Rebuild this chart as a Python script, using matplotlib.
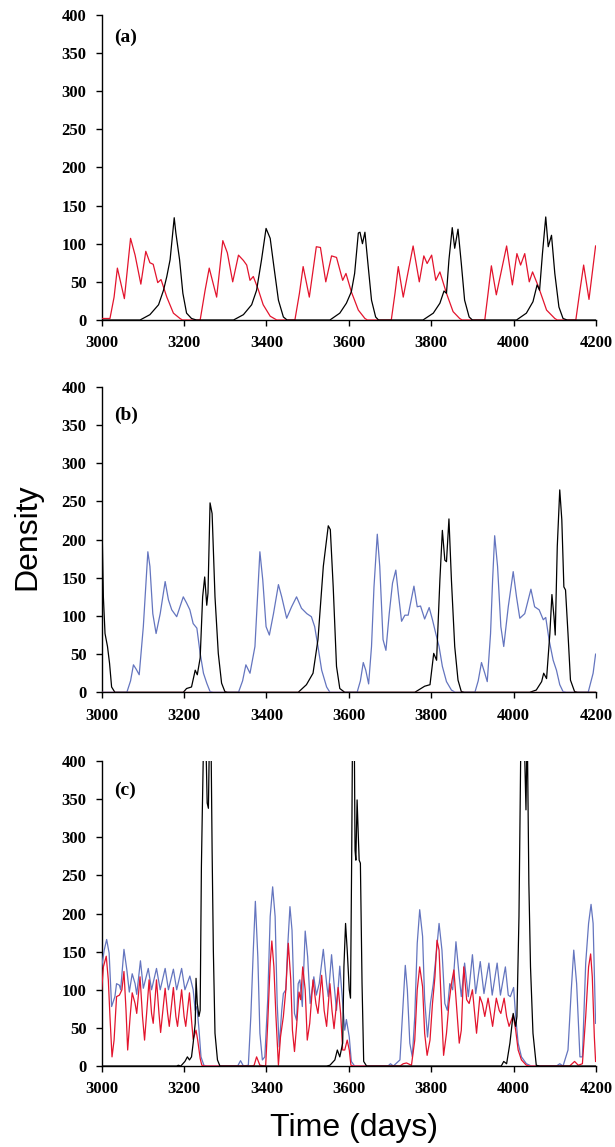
import matplotlib
matplotlib.use("Agg")
import matplotlib.pyplot as plt

# (time, density) points
a_red = [(3000, 2), (3020, 2), (3030, 30), (3038, 68), (3055, 28), (3070, 107), (3081, 85), (3095, 47),
         (3107, 90), (3117, 75), (3125, 73), (3136, 49), (3144, 53), (3158, 30), (3174, 9), (3190, 2),
         (3196, 0), (3239, 0), (3251, 39), (3261, 68), (3279, 30), (3294, 104), (3305, 88), (3318, 50),
         (3332, 85), (3344, 78), (3352, 72), (3360, 52), (3368, 57), (3380, 40), (3392, 20), (3409, 5),
         (3425, 0), (3469, 0), (3480, 35), (3489, 70), (3504, 30), (3521, 96), (3531, 95), (3544, 50),
         (3558, 84), (3570, 82), (3585, 52), (3593, 61), (3606, 37), (3623, 13), (3639, 2), (3645, 0),
         (3703, 0), (3712, 35), (3720, 70), (3732, 30), (3756, 97), (3771, 50), (3782, 84), (3790, 74),
         (3801, 85), (3811, 52), (3821, 63), (3837, 35), (3853, 11), (3869, 2), (3875, 0), (3930, 0),
         (3938, 35), (3946, 71), (3958, 33), (3983, 97), (3997, 46), (4008, 87), (4017, 72), (4027, 87),
         (4038, 50), (4046, 63), (4060, 44), (4080, 13), (4100, 2), (4106, 0), (4151, 0), (4160, 35),
         (4170, 72), (4183, 27), (4199, 97)]

a_black = [(3000, 0), (3093, 0), (3117, 7), (3138, 20), (3150, 39), (3158, 57), (3166, 79), (3176, 134),
           (3180, 114), (3189, 79), (3197, 35), (3206, 9), (3218, 2), (3230, 0), (3320, 0), (3344, 7),
           (3364, 20), (3376, 39), (3388, 79), (3399, 120), (3409, 107), (3418, 70), (3429, 26), (3441, 4),
           (3450, 0), (3554, 0), (3578, 9), (3594, 22), (3606, 37), (3614, 61), (3623, 114), (3627, 115),
           (3633, 100), (3639, 115), (3647, 70), (3655, 26), (3665, 4), (3672, 0), (3780, 0), (3805, 9),
           (3821, 22), (3831, 38), (3837, 35), (3843, 79), (3851, 121), (3857, 94), (3865, 119), (3873, 74),
           (3881, 26), (3892, 4), (3900, 0), (4007, 0), (4031, 9), (4047, 24), (4057, 46), (4063, 39),
           (4070, 87), (4078, 135), (4084, 96), (4092, 111), (4100, 61), (4110, 17), (4120, 2), (4130, 0),
           (4200, 0)]

b_red = [(3000, 0), (4200, 0)]

b_black = [(3000, 241), (3004, 125), (3008, 77), (3014, 60), (3019, 38), (3024, 7), (3032, 0), (3198, 0),
           (3206, 5), (3218, 7), (3227, 29), (3232, 23), (3239, 45), (3245, 125), (3250, 151), (3255, 114),
           (3258, 130), (3263, 248), (3268, 234), (3275, 125), (3283, 51), (3291, 12), (3299, 1), (3305, 0),
           (3477, 0), (3497, 10), (3513, 25), (3525, 69), (3538, 165), (3550, 218), (3555, 213), (3562, 138),
           (3570, 34), (3578, 5), (3590, 0), (3760, 0), (3784, 8), (3797, 10), (3806, 51), (3813, 42),
           (3821, 147), (3827, 212), (3833, 173), (3837, 171), (3843, 227), (3849, 147), (3857, 60),
           (3865, 16), (3873, 1), (3880, 0), (4039, 0), (4055, 3), (4068, 14), (4073, 25), (4080, 18),
           (4088, 77), (4093, 128), (4098, 99), (4101, 75), (4106, 191), (4112, 265), (4117, 226),
           (4122, 138), (4126, 134), (4132, 77), (4138, 16), (4148, 1), (4155, 0), (4200, 0)]

b_blue = [(3000, 0), (3061, 0), (3070, 15), (3077, 36), (3084, 30), (3091, 23), (3101, 86), (3112, 184),
          (3117, 165), (3124, 103), (3132, 77), (3142, 103), (3154, 145), (3162, 121), (3170, 108),
          (3182, 99), (3190, 112), (3198, 125), (3206, 117), (3214, 108), (3222, 90), (3231, 84), (3239, 51),
          (3247, 25), (3255, 12), (3263, 1), (3270, 0), (3332, 0), (3342, 15), (3350, 36), (3360, 25),
          (3372, 60), (3384, 184), (3391, 147), (3399, 86), (3407, 75), (3417, 103), (3429, 141),
          (3437, 125), (3449, 97), (3461, 112), (3473, 125), (3485, 110), (3498, 103), (3509, 99),
          (3517, 86), (3525, 60), (3534, 29), (3546, 7), (3554, 0), (3620, 0), (3628, 15), (3635, 39),
          (3641, 29), (3648, 11), (3655, 60), (3661, 138), (3669, 207), (3675, 165), (3683, 69), (3690, 55),
          (3698, 103), (3706, 143), (3714, 160), (3720, 130), (3728, 93), (3736, 101), (3744, 101),
          (3758, 139), (3766, 112), (3774, 113), (3784, 96), (3795, 111), (3803, 95), (3811, 77),
          (3819, 60), (3827, 34), (3837, 14), (3849, 3), (3858, 0), (3906, 0), (3914, 15), (3922, 39),
          (3930, 25), (3936, 14), (3944, 77), (3949, 147), (3954, 205), (3961, 165), (3969, 86), (3976, 60),
          (3987, 112), (3999, 158), (4007, 125), (4015, 97), (4027, 103), (4042, 135), (4051, 112),
          (4062, 108), (4072, 95), (4078, 98), (4086, 69), (4096, 42), (4104, 29), (4112, 10), (4120, 1),
          (4128, 0), (4181, 0), (4193, 25), (4199, 50)]

c_blue = [(3000, 130), (3006, 152), (3012, 166), (3018, 148), (3024, 78), (3032, 91), (3036, 108),
          (3043, 106), (3046, 100), (3054, 153), (3061, 126), (3067, 97), (3074, 121), (3081, 108),
          (3085, 94), (3094, 138), (3101, 102), (3113, 128), (3121, 100), (3133, 128), (3142, 100),
          (3154, 128), (3162, 100), (3174, 127), (3182, 100), (3194, 128), (3202, 100), (3214, 118),
          (3222, 100), (3227, 73), (3231, 78), (3236, 49), (3241, 12), (3248, 1), (3255, 0), (3330, 0),
          (3337, 7), (3344, 0), (3356, 1), (3362, 65), (3368, 152), (3373, 216), (3379, 143), (3384, 43),
          (3390, 8), (3396, 12), (3403, 87), (3409, 196), (3415, 235), (3421, 196), (3426, 82), (3431, 25),
          (3437, 73), (3441, 95), (3447, 100), (3451, 152), (3457, 209), (3462, 178), (3468, 69),
          (3473, 60), (3477, 108), (3481, 113), (3487, 78), (3494, 177), (3500, 143), (3506, 82),
          (3515, 117), (3521, 93), (3528, 108), (3538, 153), (3546, 108), (3550, 91), (3558, 146),
          (3564, 108), (3570, 73), (3578, 131), (3585, 82), (3590, 47), (3594, 61), (3601, 38), (3606, 6),
          (3614, 0), (3695, 0), (3701, 3), (3708, 0), (3724, 8), (3730, 65), (3737, 132), (3742, 100),
          (3748, 30), (3754, 12), (3760, 65), (3766, 161), (3772, 205), (3779, 170), (3784, 87),
          (3791, 38), (3798, 82), (3805, 108), (3813, 152), (3819, 187), (3826, 152), (3833, 82),
          (3839, 73), (3845, 108), (3852, 100), (3860, 163), (3868, 117), (3873, 91), (3881, 135),
          (3890, 91), (3900, 146), (3908, 95), (3919, 137), (3928, 95), (3940, 135), (3948, 93),
          (3960, 135), (3968, 93), (3980, 130), (3987, 93), (3992, 91), (4000, 103), (4005, 65),
          (4011, 30), (4019, 12), (4031, 3), (4043, 0), (4104, 0), (4112, 3), (4120, 0), (4132, 21),
          (4140, 100), (4146, 152), (4153, 108), (4161, 12), (4167, 12), (4175, 135), (4182, 187),
          (4188, 212), (4193, 187), (4199, 56)]

c_red = [(3000, 100), (3004, 130), (3011, 144), (3016, 113), (3020, 65), (3025, 12), (3030, 34), (3036, 91),
         (3043, 93), (3049, 100), (3054, 124), (3059, 73), (3063, 21), (3069, 65), (3074, 96), (3081, 82),
         (3085, 69), (3093, 117), (3099, 65), (3104, 34), (3109, 69), (3115, 113), (3121, 69), (3125, 56),
         (3133, 113), (3139, 69), (3143, 44), (3154, 102), (3160, 69), (3164, 52), (3174, 103), (3180, 65),
         (3184, 52), (3194, 100), (3200, 65), (3204, 52), (3213, 96), (3218, 60), (3222, 35), (3229, 47),
         (3233, 34), (3239, 10), (3243, 1), (3250, 0), (3366, 0), (3370, 1), (3376, 12), (3384, 1),
         (3398, 0), (3403, 56), (3409, 135), (3413, 164), (3418, 130), (3423, 65), (3429, 1), (3434, 38),
         (3441, 65), (3447, 100), (3453, 161), (3459, 113), (3463, 47), (3468, 19), (3473, 52), (3479, 97),
         (3483, 87), (3488, 130), (3494, 100), (3499, 34), (3505, 56), (3513, 113), (3520, 82), (3525, 69),
         (3534, 119), (3540, 73), (3546, 52), (3554, 108), (3559, 73), (3564, 49), (3574, 103), (3580, 69),
         (3585, 21), (3590, 21), (3596, 34), (3601, 21), (3605, 1), (3612, 0), (3724, 0), (3732, 3),
         (3740, 4), (3752, 1), (3760, 34), (3766, 100), (3772, 130), (3779, 104), (3784, 43), (3790, 14),
         (3797, 34), (3803, 82), (3809, 117), (3814, 165), (3819, 152), (3825, 73), (3830, 14), (3837, 43),
         (3843, 82), (3849, 108), (3855, 126), (3861, 82), (3868, 30), (3873, 47), (3879, 130), (3886, 87),
         (3892, 82), (3900, 100), (3906, 65), (3910, 43), (3918, 91), (3924, 82), (3930, 65), (3938, 89),
         (3944, 69), (3949, 52), (3958, 89), (3965, 73), (3969, 69), (3977, 89), (3983, 65), (3989, 52),
         (3999, 67), (4005, 47), (4011, 21), (4019, 8), (4031, 1), (4038, 0), (4136, 0), (4148, 6),
         (4157, 1), (4167, 3), (4175, 65), (4182, 130), (4187, 147), (4191, 117), (4196, 38), (4199, 6)]

c_black = [(3000, 0), (3182, 0), (3186, 1), (3192, 0), (3202, 6), (3208, 12), (3213, 8), (3218, 12),
           (3222, 30), (3227, 56), (3229, 115), (3232, 82), (3236, 65), (3239, 73), (3242, 261), (3244, 327),
           (3248, 450), (3252, 450), (3256, 345), (3259, 338), (3262, 450), (3265, 450), (3268, 283),
           (3271, 152), (3275, 43), (3281, 8), (3287, 0), (3546, 0), (3554, 1), (3566, 8), (3572, 21),
           (3578, 12), (3585, 30), (3588, 130), (3592, 187), (3596, 152), (3601, 100), (3604, 89),
           (3607, 283), (3609, 450), (3613, 450), (3615, 283), (3617, 270), (3620, 349), (3623, 301),
           (3625, 270), (3628, 266), (3632, 108), (3636, 6), (3643, 0), (3970, 0), (3976, 6), (3983, 3),
           (3991, 30), (3999, 69), (4005, 52), (4008, 65), (4013, 196), (4018, 450), (4025, 450),
           (4030, 336), (4033, 450), (4037, 240), (4041, 130), (4047, 43), (4055, 1), (4063, 0), (4200, 0)]

panel_labels = ["(a)", "(b)", "(c)"]
x_ticks = [3000, 3200, 3400, 3600, 3800, 4000, 4200]
y_ticks = [0, 50, 100, 150, 200, 250, 300, 350, 400]

RED = "#e3142d"
BLUE = "#6475bf"
BLACK = "#000000"

panels = [
    [(a_red, RED), (a_black, BLACK)],
    [(b_blue, BLUE), (b_black, BLACK), (b_red, RED)],
    [(c_blue, BLUE), (c_red, RED), (c_black, BLACK)],
]

# axes boxes in figure fractions (left, bottom, width, height)
boxes = [
    (0.1654, 0.7210, 0.8037, 0.2662),
    (0.1654, 0.3964, 0.8037, 0.2664),
    (0.1654, 0.0706, 0.8037, 0.2659),
]
label_y = [0.955, 0.935, 0.932]

tick_font = {"family": ["Liberation Serif", "DejaVu Serif"], "weight": "bold", "size": 12}

fig = plt.figure(figsize=(6.15, 11.47), dpi=100)

for i, series in enumerate(panels):
    ax = fig.add_axes(boxes[i])
    for pts, col in series:
        t = [p[0] for p in pts]
        v = [p[1] for p in pts]
        ax.plot(t, v, color=col, lw=0.9, zorder=3)
    ax.set_xlim(3000, 4200)
    ax.set_ylim(0, 400)
    ax.set_xticks(x_ticks)
    ax.set_yticks(y_ticks)
    ax.set_xticklabels([str(x) for x in x_ticks], fontdict=tick_font)
    ax.set_yticklabels([str(y) for y in y_ticks], fontdict=tick_font)
    ax.tick_params(axis="both", direction="out", length=4, width=1, pad=7, colors="black")
    for s in ["top", "right"]:
        ax.spines[s].set_visible(False)
    for s in ["left", "bottom"]:
        ax.spines[s].set_linewidth(1.0)
        ax.spines[s].set_color("black")
    ax.text(0.026, label_y[i], panel_labels[i], transform=ax.transAxes, ha="left", va="top",
            fontdict={"family": ["Liberation Serif", "DejaVu Serif"], "weight": "bold", "size": 14})

fig.text(27 / 615, 1 - 537 / 1147, "Density", rotation=90, ha="center", va="center",
         family=["Liberation Sans", "DejaVu Sans"], fontsize=23)
fig.text(354 / 615, 1 - 1128 / 1147, "Time (days)", ha="center", va="center",
         family=["Liberation Sans", "DejaVu Sans"], fontsize=23)

fig.savefig("out.png", dpi=100)
